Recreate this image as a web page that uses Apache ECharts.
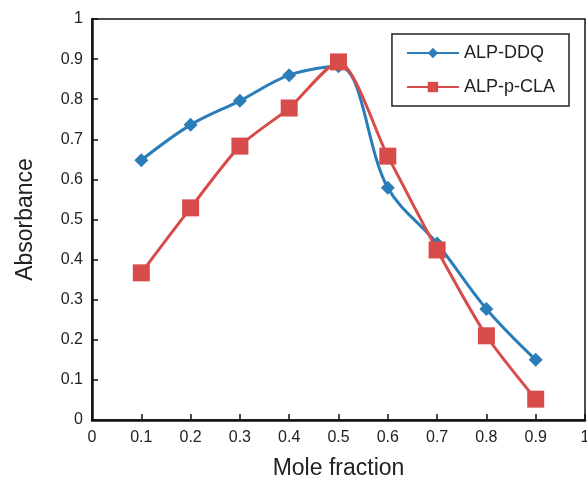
<!DOCTYPE html>
<html>
<head>
<meta charset="utf-8">
<script src="https://cdn.jsdelivr.net/npm/echarts@6/dist/echarts.min.js"></script>
<style>
html, body { margin: 0; padding: 0; background: #fff; }
#chart { width: 587px; height: 479px; }
</style>
</head>
<body>
<div id="chart"></div>
<script>
var moleFraction = [0.1, 0.2, 0.3, 0.4, 0.5, 0.6, 0.7, 0.8, 0.9];
var ddq = [0.648, 0.736, 0.796, 0.860, 0.882, 0.579, 0.440, 0.277, 0.150];
var pcla = [0.367, 0.529, 0.683, 0.778, 0.893, 0.658, 0.424, 0.210, 0.052];

function pairs(xs, ys) {
    var out = [];
    for (var i = 0; i < xs.length; i++) {
        out.push([xs[i], ys[i]]);
    }
    return out;
}

function fmt(v) {
    return String(Math.round(v * 10) / 10);
}

var chart = echarts.init(document.getElementById('chart'));

var axisText = { color: '#222', fontSize: 16, fontFamily: 'Liberation Sans, Arial' };

var option = {
    animation: false,
    grid: {
        left: 92, right: 2, top: 19, bottom: 59,
        outerBoundsMode: 'none',
        containLabel: false,
        show: true, borderColor: '#111', borderWidth: 1.5
    },
    legend: {
        right: 18, top: 34,
        orient: 'vertical',
        padding: [10, 14, 10, 14],
        itemGap: 16,
        itemWidth: 52,
        itemHeight: 13,
        borderColor: '#222',
        borderWidth: 1.5,
        textStyle: { color: '#222', fontSize: 18, fontFamily: 'Liberation Sans, Arial' },
        data: ['ALP-DDQ', 'ALP-p-CLA']
    },
    xAxis: {
        type: 'value',
        min: 0, max: 1, interval: 0.1,
        name: 'Mole fraction',
        nameLocation: 'middle',
        nameGap: 37,
        nameTextStyle: { color: '#222', fontSize: 23, fontFamily: 'Liberation Sans, Arial' },
        axisLine: { lineStyle: { color: '#111', width: 2.5 } },
        axisTick: { inside: true, length: 6, lineStyle: { color: '#111', width: 1.5 } },
        axisLabel: Object.assign({ margin: 10, formatter: fmt }, axisText),
        splitLine: { show: false }
    },
    yAxis: {
        type: 'value',
        min: 0, max: 1, interval: 0.1,
        name: 'Absorbance',
        nameLocation: 'middle',
        nameGap: 55,
        nameTextStyle: { color: '#222', fontSize: 23, fontFamily: 'Liberation Sans, Arial' },
        axisLine: { lineStyle: { color: '#111', width: 2.5 } },
        axisTick: { inside: true, length: 6, lineStyle: { color: '#111', width: 1.5 } },
        axisLabel: Object.assign({ margin: 9, formatter: fmt }, axisText),
        splitLine: { show: false }
    },
    series: [
        {
            name: 'ALP-DDQ',
            type: 'line',
            smooth: 0.35,
            data: pairs(moleFraction, ddq),
            symbol: 'diamond',
            symbolSize: 14,
            itemStyle: { color: '#2a7db8' },
            lineStyle: { color: '#2a7db8', width: 3 }
        },
        {
            name: 'ALP-p-CLA',
            type: 'line',
            smooth: 0.25,
            data: pairs(moleFraction, pcla),
            symbol: 'rect',
            symbolSize: 17,
            itemStyle: { color: '#d84b4b' },
            lineStyle: { color: '#d84b4b', width: 3 }
        }
    ]
};

chart.setOption(option, true);
</script>
</body>
</html>
